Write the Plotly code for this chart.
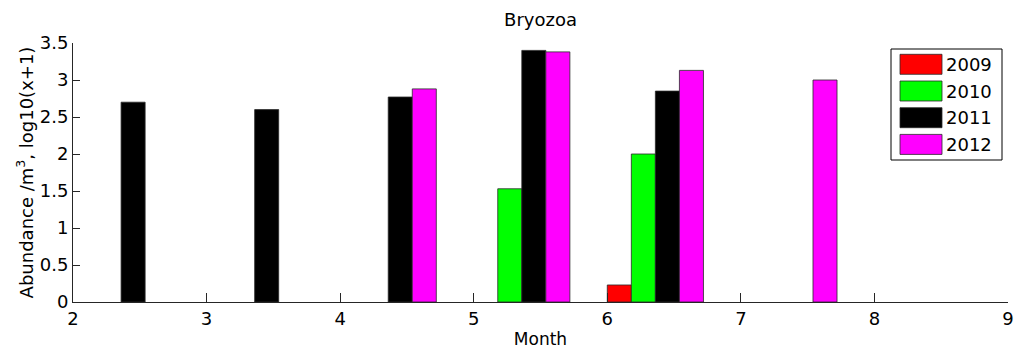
import plotly.graph_objects as go

# Sampling positions on the month axis and log-abundance per year
months = [2.36, 3.36, 4.36, 5.36, 6.36, 7.36]
years = ["2009", "2010", "2011", "2012"]
abund_2009 = [None, None, None, None, 0.23, None]
abund_2010 = [None, None, None, 1.53, 2.00, None]
abund_2011 = [2.70, 2.60, 2.77, 3.40, 2.85, None]
abund_2012 = [None, None, 2.88, 3.38, 3.13, 3.00]
series = [abund_2009, abund_2010, abund_2011, abund_2012]
colors = ["#FF0000", "#00FF00", "#000000", "#FF00FF"]

x_ticks = [2, 3, 4, 5, 6, 7, 8, 9]
y_ticks = [0, 0.5, 1, 1.5, 2, 2.5, 3, 3.5]

W, H = 1016, 350
ML, MR, MT, MB = 73, 8, 43, 48
PW, PH = W - ML - MR, H - MT - MB
FONT = "DejaVu Sans, Verdana, sans-serif"


def px_x(px):
    return (px - ML) / PW


def px_y(py):
    return (H - MB - py) / PH


fig = go.Figure()
for name, vals, col in zip(years, series, colors):
    fig.add_trace(go.Bar(
        x=months, y=vals, name=name,
        marker=dict(color=col, line=dict(color="#2a2a2a", width=0.8)),
        showlegend=False,
    ))

# Boxed legend in the upper right corner
shapes = [dict(type="rect", xref="paper", yref="paper",
               x0=px_x(891), x1=px_x(1002), y0=px_y(160), y1=px_y(49),
               line=dict(color="#000000", width=1), fillcolor="white",
               layer="above")]
annotations = []
for i, (name, col) in enumerate(zip(years, colors)):
    cy = 64.3 + i * 26.7
    shapes.append(dict(type="rect", xref="paper", yref="paper",
                       x0=px_x(900), x1=px_x(942),
                       y0=px_y(cy + 10), y1=px_y(cy - 10),
                       line=dict(color="#2a2a2a", width=0.8), fillcolor=col,
                       layer="above"))
    annotations.append(dict(text=name, xref="paper", yref="paper",
                            x=px_x(944), y=px_y(cy), xanchor="left",
                            yanchor="middle", showarrow=False,
                            font=dict(size=18, color="#000000", family=FONT)))

fig.update_layout(
    width=W, height=H,
    margin=dict(l=ML, r=MR, t=MT, b=MB, pad=0, autoexpand=False),
    paper_bgcolor="white", plot_bgcolor="white",
    barmode="group", bargap=0.28, bargroupgap=0,
    font=dict(family=FONT, size=18, color="#000000"),
    title=dict(text="Bryozoa", x=0.5 * (ML + W - MR) / W, xanchor="center",
               y=1 - 20 / H, yanchor="middle", yref="container",
               font=dict(size=18, family=FONT, color="#000000")),
    shapes=shapes, annotations=annotations,
    xaxis=dict(range=[2, 9], tickvals=x_ticks, ticks="inside", ticklen=9,
               tickcolor="#262626", showline=True, linecolor="#262626",
               linewidth=1, showgrid=False, zeroline=False, automargin=False,
               tickfont=dict(size=18),
               title=dict(text="Month", standoff=5, font=dict(size=17))),
    yaxis=dict(range=[0, 3.5], tickvals=y_ticks, ticks="inside", ticklen=7,
               tickcolor="#262626", showline=True, linecolor="#262626",
               linewidth=1, showgrid=False, zeroline=False, automargin=False,
               tickfont=dict(size=18),
               title=dict(text="Abundance /m<sup>3</sup>, log10(x+1)",
                          standoff=1, font=dict(size=18))),
)

fig.write_html("out.html")
